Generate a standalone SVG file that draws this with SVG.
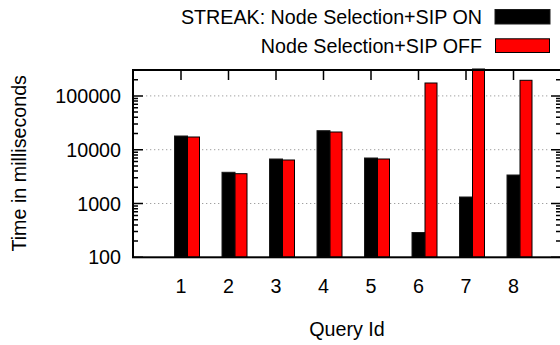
<svg xmlns="http://www.w3.org/2000/svg" width="560" height="345" viewBox="0 0 560 345">
  <style>
    text { font-family: "Liberation Sans", Arial, Helvetica, sans-serif; font-size: 19.7px; fill: #000; }
    .ytl { text-anchor: end; }
    .xtl { text-anchor: middle; }
    .grid { stroke: #a0a0a0; stroke-width: 1; stroke-dasharray: 1.3 2.7; fill: none; }
    .tick { stroke: #000; stroke-width: 1.5; fill: none; }
    .frame { stroke: #000; stroke-width: 2; fill: none; }
    .on { fill: #000; stroke: #1a1a1a; stroke-width: 1; }
    .off { fill: #ff0000; stroke: #000; stroke-width: 1; }
  </style>
  <rect width="560" height="345" fill="#fff"/>

  <!-- major grid lines (log scale, 100 .. 300000) -->
  <g id="grid">
    <line class="grid" x1="146" y1="95.9" x2="550" y2="95.9"/>
    <line class="grid" x1="146" y1="149.7" x2="550" y2="149.7"/>
    <line class="grid" x1="146" y1="203.5" x2="550" y2="203.5"/>
  </g>

  <!-- bars: query 1..8, STREAK (black) then baseline (red) -->
  <g id="bars">
    <g id="q1"><rect class="on" x="174.5" y="136" width="13" height="121.3"/><rect class="off" x="187.5" y="137" width="12" height="120.3"/></g>
    <g id="q2"><rect class="on" x="222" y="172.3" width="13" height="85"/><rect class="off" x="235" y="173.7" width="12" height="83.6"/></g>
    <g id="q3"><rect class="on" x="269.5" y="159" width="13" height="98.3"/><rect class="off" x="282.5" y="160" width="12" height="97.3"/></g>
    <g id="q4"><rect class="on" x="317" y="130.7" width="13" height="126.6"/><rect class="off" x="330" y="132" width="12" height="125.3"/></g>
    <g id="q5"><rect class="on" x="364.5" y="158" width="13" height="99.3"/><rect class="off" x="377.5" y="159" width="12" height="98.3"/></g>
    <g id="q6"><rect class="on" x="412" y="232.5" width="13" height="24.8"/><rect class="off" x="425" y="83" width="12" height="174.3"/></g>
    <g id="q7"><rect class="on" x="459.5" y="197" width="13" height="60.3"/><rect class="off" x="472.5" y="69" width="12" height="188.3"/></g>
    <g id="q8"><rect class="on" x="507" y="175" width="13" height="82.3"/><rect class="off" x="520" y="80.3" width="12" height="177"/></g>
  </g>

  <!-- axis ticks -->
  <g id="ticks">
    <!-- left: major -->
    <path class="tick" d="M133 257.3h10M133 203.5h10M133 149.7h10M133 95.9h10"/>
    <!-- left: minor -->
    <path class="tick" d="M133 241.1h5M133 231.6h5M133 224.9h5M133 219.7h5M133 215.4h5M133 211.8h5M133 208.7h5M133 206h5
                          M133 187.3h5M133 177.8h5M133 171.1h5M133 165.9h5M133 161.6h5M133 158h5M133 154.9h5M133 152.2h5
                          M133 133.5h5M133 124h5M133 117.3h5M133 112.1h5M133 107.8h5M133 104.2h5M133 101.1h5M133 98.4h5
                          M133 79.7h5"/>
    <!-- right: major -->
    <path class="tick" d="M561 257.3h-10M561 203.5h-10M561 149.7h-10M561 95.9h-10"/>
    <!-- right: minor -->
    <path class="tick" d="M561 241.1h-5M561 231.6h-5M561 224.9h-5M561 219.7h-5M561 215.4h-5M561 211.8h-5M561 208.7h-5M561 206h-5
                          M561 187.3h-5M561 177.8h-5M561 171.1h-5M561 165.9h-5M561 161.6h-5M561 158h-5M561 154.9h-5M561 152.2h-5
                          M561 133.5h-5M561 124h-5M561 117.3h-5M561 112.1h-5M561 107.8h-5M561 104.2h-5M561 101.1h-5M561 98.4h-5
                          M561 79.7h-5"/>
    <!-- top -->
    <path class="tick" d="M181 70v10M228.5 70v10M276 70v10M323.5 70v10M371 70v10M418.5 70v10M466 70v10M513.5 70v10"/>
  </g>

  <!-- plot frame -->
  <rect id="frame" class="frame" x="133" y="70" width="428" height="187.3"/>

  <!-- y tick labels -->
  <g id="ylabels">
    <text class="ytl" x="121" y="103">100000</text>
    <text class="ytl" x="121" y="156.8">10000</text>
    <text class="ytl" x="121" y="210.6">1000</text>
    <text class="ytl" x="121" y="264.4">100</text>
  </g>

  <!-- x tick labels -->
  <g id="xlabels">
    <text class="xtl" x="181" y="293">1</text>
    <text class="xtl" x="228.5" y="293">2</text>
    <text class="xtl" x="276" y="293">3</text>
    <text class="xtl" x="323.5" y="293">4</text>
    <text class="xtl" x="371" y="293">5</text>
    <text class="xtl" x="418.5" y="293">6</text>
    <text class="xtl" x="466" y="293">7</text>
    <text class="xtl" x="513.5" y="293">8</text>
  </g>

  <!-- axis titles -->
  <text id="xtitle" x="347" y="336" text-anchor="middle">Query Id</text>
  <text id="ytitle" transform="translate(26 163.3) rotate(-90)" text-anchor="middle">Time in milliseconds</text>

  <!-- key -->
  <g id="legend">
    <g id="key-on">
      <text x="482" y="24" text-anchor="end">STREAK: Node Selection+SIP ON</text>
      <rect class="on" x="495" y="9.5" width="55" height="14.5"/>
    </g>
    <g id="key-off">
      <text x="482" y="52.7" text-anchor="end">Node Selection+SIP OFF</text>
      <rect class="off" x="495.5" y="38.8" width="54" height="13.7" stroke-width="1.5"/>
    </g>
  </g>
</svg>
